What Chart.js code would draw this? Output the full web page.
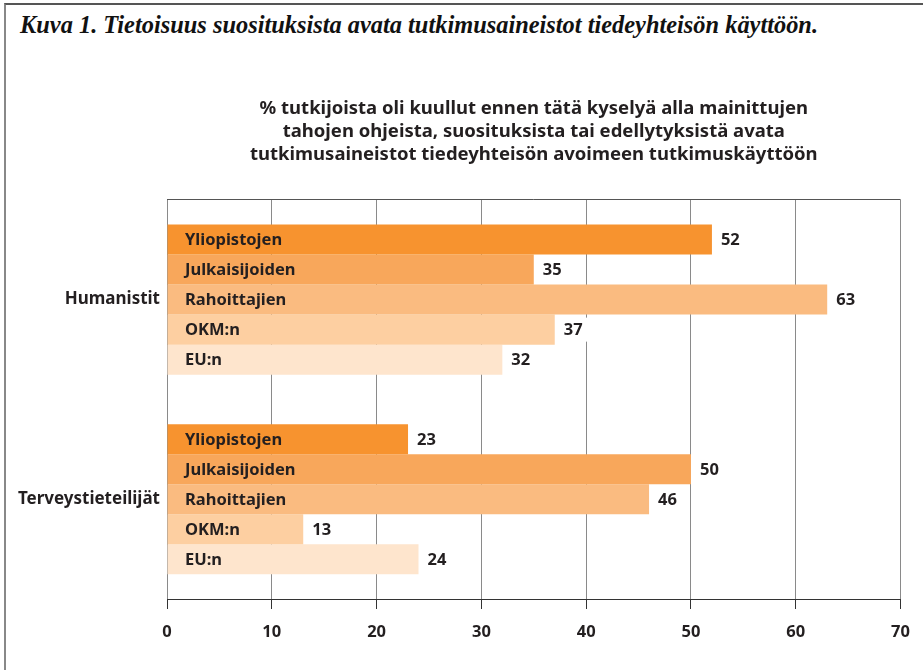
<!DOCTYPE html>
<html>
<head>
<meta charset="utf-8">
<script src="https://cdn.jsdelivr.net/npm/chart.js@4"></script>
<style>
  html, body { margin: 0; padding: 0; background: #fff; }
  #frame {
    position: absolute; left: 4px; top: 3px; width: 930px; height: 680px;
    border-top: 2px solid #555; border-left: 2px solid #888;
  }
  #caption {
    position: absolute; left: 20px; top: 11px;
    font: italic bold 24.4px "Liberation Serif", serif; color: #111;
    white-space: nowrap;
  }
  #wrap { position: absolute; left: 0; top: 0; width: 923px; height: 670px; }
</style>
</head>
<body>
<div id="frame"></div>
<div id="caption">Kuva 1. Tietoisuus suosituksista avata tutkimusaineistot tiedeyhteisön käyttöön.</div>
<div id="wrap"><canvas id="chart"></canvas></div>
<script>
// groups on the y axis
const groups = ['Humanistit', 'Terveystieteilijät'];
// sources, one bar each per group
const sources = ['Yliopistojen', 'Julkaisijoiden', 'Rahoittajien', 'OKM:n', 'EU:n'];
const yliopistojen = [52, 23];
const julkaisijoiden = [35, 50];
const rahoittajien = [63, 46];
const okm = [37, 13];
const eu = [32, 24];
const colors = ['#f7932f', '#f8a75b', '#fabb80', '#fdcfa1', '#fee5cd'];

const titleLines = [
  '% tutkijoista oli kuullut ennen tätä kyselyä alla mainittujen',
  'tahojen ohjeista, suosituksista tai edellytyksistä avata',
  'tutkimusaineistot tiedeyhteisön avoimeen tutkimuskäyttöön'
];

const textColor = '#231f20';
const font = 'Noto Sans';

// names inside the bars and values after them
const barLabels = {
  id: 'barLabels',
  afterDatasetsDraw(chart) {
    const ctx = chart.ctx;
    const area = chart.chartArea;
    ctx.save();
    ctx.font = 'bold 16.5px "' + font + '"';
    ctx.textBaseline = 'middle';
    chart.data.datasets.forEach((ds, i) => {
      chart.getDatasetMeta(i).data.forEach((bar, j) => {
        ctx.fillStyle = textColor;
        ctx.textAlign = 'left';
        ctx.fillText(ds.label, area.left + 18, bar.y + 1);
        const txt = String(ds.data[j]);
        const w = ctx.measureText(txt).width;
        ctx.fillStyle = '#fff';
        ctx.fillRect(bar.x + 1, bar.y - 12, w + 18, 24);
        ctx.fillStyle = textColor;
        ctx.fillText(txt, bar.x + 9, bar.y + 1);
      });
    });
    ctx.restore();
  }
};

document.addEventListener('DOMContentLoaded', function () {
  const ctx = document.getElementById('chart').getContext('2d');
  const series = [yliopistojen, julkaisijoiden, rahoittajien, okm, eu];

  new Chart(ctx, {
    type: 'bar',
    data: {
      labels: groups,
      datasets: series.map((d, i) => ({
        label: sources[i],
        data: d,
        backgroundColor: colors[i],
        borderWidth: 0,
        barPercentage: 1,
        categoryPercentage: 0.752
      }))
    },
    options: {
      indexAxis: 'y',
      responsive: false,
      animation: false,
      devicePixelRatio: 1,
      layout: { padding: { top: 0, right: 20, bottom: 0, left: 0 } },
      plugins: {
        legend: { display: false },
        tooltip: { enabled: false },
        title: {
          display: true,
          text: titleLines,
          fullSize: false,
          color: textColor,
          font: { family: font, size: 18.5, weight: 'bold', lineHeight: 1.24 },
          padding: { top: 97, bottom: 34 }
        }
      },
      scales: {
        x: {
          min: 0,
          max: 70,
          ticks: {
            stepSize: 10,
            color: textColor,
            padding: 13,
            font: { family: font, size: 16.5, weight: 'bold' }
          },
          grid: {
            color: '#8a8a8a',
            lineWidth: 1,
            drawTicks: true,
            tickLength: 10,
            tickColor: '#333'
          },
          border: { display: true, color: '#333', width: 1 },
          afterFit: s => { s.height = 71; }
        },
        y: {
          ticks: {
            color: textColor,
            padding: 7,
            font: { family: font, size: 17, weight: 'bold' }
          },
          grid: {
            drawTicks: false,
            color: c => c.index === 0 ? '#555' : 'rgba(0,0,0,0)'
          },
          border: { display: false },
          afterFit: s => { s.width = 167; }
        }
      }
    },
    plugins: [barLabels]
  });
});
</script>
<script>
  document.getElementById('chart').width = 923;
  document.getElementById('chart').height = 670;
</script>
</body>
</html>
